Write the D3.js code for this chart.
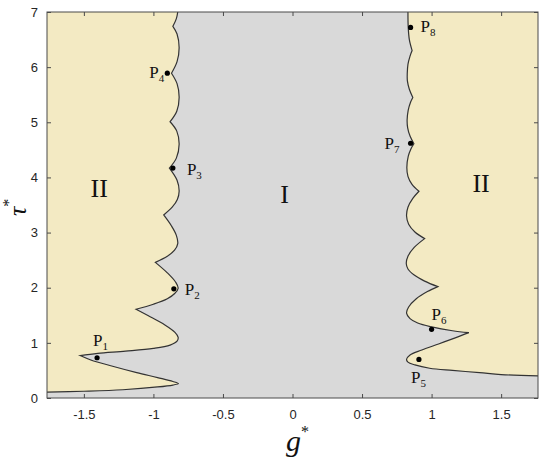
<!DOCTYPE html>
<html><head><meta charset="utf-8">
<script src="https://cdn.jsdelivr.net/npm/d3@7"></script>
<style>body{margin:0;background:#fff}svg{display:block}</style>
</head><body>
<svg id="c" width="550" height="465"></svg>
<script>
// ---- data ----
const xTicks = [-1.5, -1, -0.5, 0, 0.5, 1, 1.5];
const xTickLabels = ["-1.5", "-1", "-0.5", "0", "0.5", "1", "1.5"];
const yTicks = [0, 1, 2, 3, 4, 5, 6, 7];
const yTickLabels = ["0", "1", "2", "3", "4", "5", "6", "7"];

// left stability boundary (g*, tau*), cusp indices separate smooth pieces
const leftG = [-1.765, -1.5, -1.22, -0.97, -0.86, -0.82, -0.86, -0.97, -1.12, -1.3, -1.45, -1.527,
  -1.4, -1.2, -1.0, -0.88, -0.83, -0.822, -0.845, -0.92, -1.02, -1.125,
  -1.0, -0.9, -0.845, -0.822, -0.84, -0.9, -0.986,
  -0.9, -0.848, -0.825, -0.835, -0.87, -0.926,
  -0.865, -0.828, -0.815, -0.83, -0.885,
  -0.835, -0.815, -0.832, -0.88,
  -0.832, -0.815, -0.83, -0.87,
  -0.83, -0.815, -0.83, -0.86,
  -0.835, -0.825];
const leftTau = [0.105, 0.122, 0.15, 0.2, 0.235, 0.262, 0.3, 0.37, 0.46, 0.58, 0.69, 0.77,
  0.81, 0.85, 0.9, 0.96, 1.03, 1.1, 1.19, 1.33, 1.47, 1.61,
  1.7, 1.8, 1.9, 1.99, 2.1, 2.27, 2.46,
  2.57, 2.68, 2.8, 2.95, 3.12, 3.32,
  3.46, 3.6, 3.75, 3.95, 4.17,
  4.35, 4.6, 4.84, 5.01,
  5.2, 5.45, 5.7, 5.89,
  6.1, 6.35, 6.6, 6.74,
  6.88, 7.0];
const leftCusps = [11, 21, 28, 34, 39, 43, 47, 51];

// right stability boundary
const rightG = [1.765, 1.5, 1.345, 1.15, 0.986, 0.88, 0.83, 0.82, 0.845, 0.93, 1.05, 1.17, 1.268,
  1.15, 1.0, 0.9, 0.845, 0.82, 0.835, 0.89, 0.97, 1.045,
  0.95, 0.875, 0.83, 0.818, 0.83, 0.875, 0.95,
  0.88, 0.835, 0.82, 0.83, 0.865, 0.909,
  0.858, 0.83, 0.822, 0.832, 0.852, 0.873,
  0.845, 0.828, 0.824, 0.832, 0.848, 0.865,
  0.84, 0.826, 0.825, 0.83, 0.845, 0.86,
  0.84, 0.832, 0.83];
const rightTau = [0.40, 0.425, 0.46, 0.5, 0.54, 0.6, 0.65, 0.70, 0.78, 0.87, 0.98, 1.09, 1.185,
  1.22, 1.29, 1.36, 1.44, 1.54, 1.65, 1.8, 1.93, 2.02,
  2.12, 2.23, 2.34, 2.44, 2.57, 2.73, 2.89,
  3.01, 3.15, 3.3, 3.46, 3.62, 3.75,
  3.88, 4.02, 4.18, 4.38, 4.52, 4.61,
  4.75, 4.9, 5.04, 5.22, 5.36, 5.45,
  5.6, 5.75, 5.88, 6.05, 6.2, 6.3,
  6.5, 6.72, 7.0];
const rightCusps = [12, 21, 28, 34, 40, 46, 52];

// marked points
const ptNames = ["1", "2", "3", "4", "5", "6", "7", "8"];
const ptG = [-1.405, -0.853, -0.86, -0.90, 0.909, 1.0, 0.849, 0.849];
const ptTau = [0.73, 1.98, 4.17, 5.89, 0.70, 1.245, 4.62, 6.72];

// region labels
const regionText = ["II", "I", "II"];
const regionG = [-1.39, -0.057, 1.356];
const regionTau = [3.65, 3.54, 3.74];

// ---- drawing ----
const svg = d3.select("#c");
const L = 47, R = 538, T = 12, B = 398;
const x = d3.scaleLinear().domain([-1.765, 1.765]).range([L, R]);
const y = d3.scaleLinear().domain([0, 7]).range([B, T]);

const yellow = "#F3EAC3", grey = "#D9D9D9", ink = "#262626";

svg.append("defs").append("clipPath").attr("id", "clip")
  .append("rect").attr("x", L).attr("y", T).attr("width", R - L).attr("height", B - T);

const line = d3.line().curve(d3.curveCatmullRom.alpha(0.5));
function piecePath(G, Tau, cusps) {
  const pts = G.map((g, i) => [x(g), y(Tau[i])]);
  const br = [0, ...cusps, pts.length - 1];
  let d = "";
  for (let k = 0; k < br.length - 1; k++) {
    let s = line(pts.slice(br[k], br[k + 1] + 1));
    if (k > 0) s = s.replace(/^M[^A-Za-z]*/, "");
    d += s;
  }
  return d;
}

const plot = svg.append("g").attr("clip-path", "url(#clip)");
plot.append("rect").attr("x", L).attr("y", T).attr("width", R - L).attr("height", B - T).attr("fill", grey);

const leftD = piecePath(leftG, leftTau, leftCusps);
const rightD = piecePath(rightG, rightTau, rightCusps);

plot.append("path").attr("d", leftD + `L${x(-1.765)},${y(7)}Z`).attr("fill", yellow);
plot.append("path").attr("d", rightD + `L${x(1.765)},${y(7)}Z`).attr("fill", yellow);
plot.append("path").attr("d", leftD).attr("fill", "none").attr("stroke", "#333").attr("stroke-width", 1.2);
plot.append("path").attr("d", rightD).attr("fill", "none").attr("stroke", "#333").attr("stroke-width", 1.2);

// points
plot.selectAll("circle.pt").data(ptG).enter().append("circle")
  .attr("cx", (d) => x(d)).attr("cy", (d, i) => y(ptTau[i])).attr("r", 2.6).attr("fill", "#000");

// point labels (offsets in px)
const lblDx = [-4, 11, 14, -18, -8, 0, -26, 10];
const lblDy = [-12, 6, 7, 5, 24, -9, 6, 5];
ptNames.forEach((n, i) => {
  const t = svg.append("text").attr("x", x(ptG[i]) + lblDx[i]).attr("y", y(ptTau[i]) + lblDy[i])
    .attr("font-family", "Liberation Serif, Times New Roman, serif").attr("font-size", 17).attr("fill", "#111");
  t.append("tspan").text("P");
  t.append("tspan").text(n).attr("font-size", 11).attr("dy", 4);
});

// region labels
regionText.forEach((s, i) => {
  svg.append("text").attr("x", x(regionG[i])).attr("y", y(regionTau[i])).attr("text-anchor", "middle")
    .attr("font-family", "Liberation Serif, Times New Roman, serif").attr("font-size", 26).attr("fill", "#111").text(s);
});

// frame
svg.append("rect").attr("x", L).attr("y", T).attr("width", R - L).attr("height", B - T)
  .attr("fill", "none").attr("stroke", "#4a4a4a").attr("stroke-width", 1);

// axes with inward ticks
const fontSans = "Liberation Sans, Arial, sans-serif";
const xb = svg.append("g").attr("transform", `translate(0,${B})`)
  .call(d3.axisBottom(x).tickValues(xTicks).tickSize(-4).tickPadding(12).tickFormat((d, i) => xTickLabels[i]));
const xt = svg.append("g").attr("transform", `translate(0,${T})`)
  .call(d3.axisTop(x).tickValues(xTicks).tickSize(-4).tickFormat(""));
const yl = svg.append("g").attr("transform", `translate(${L},0)`)
  .call(d3.axisLeft(y).tickValues(yTicks).tickSize(-4).tickPadding(9).tickFormat((d, i) => yTickLabels[i]));
const yr = svg.append("g").attr("transform", `translate(${R},0)`)
  .call(d3.axisRight(y).tickValues(yTicks).tickSize(-4).tickFormat(""));
[xb, xt, yl, yr].forEach(g => {
  g.select(".domain").remove();
  g.selectAll(".tick line").attr("stroke", "#4a4a4a");
  g.selectAll(".tick text").attr("font-family", fontSans).attr("font-size", 13).attr("fill", ink);
});

// axis titles
const gt = svg.append("text").attr("x", 286).attr("y", 451)
  .attr("font-family", "Liberation Serif, Times New Roman, serif").attr("fill", "#111");
gt.append("tspan").text("g").attr("font-style", "italic").attr("font-size", 30);
gt.append("tspan").text("*").attr("font-size", 16).attr("dy", -14);

const tt = svg.append("text").attr("transform", "translate(26,216) rotate(-90)")
  .attr("font-family", "Liberation Serif, Times New Roman, serif").attr("fill", "#111");
tt.append("tspan").text("τ").attr("font-style", "italic").attr("font-size", 26);
tt.append("tspan").text("*").attr("font-size", 16).attr("dy", -12);
</script>
</body></html>
